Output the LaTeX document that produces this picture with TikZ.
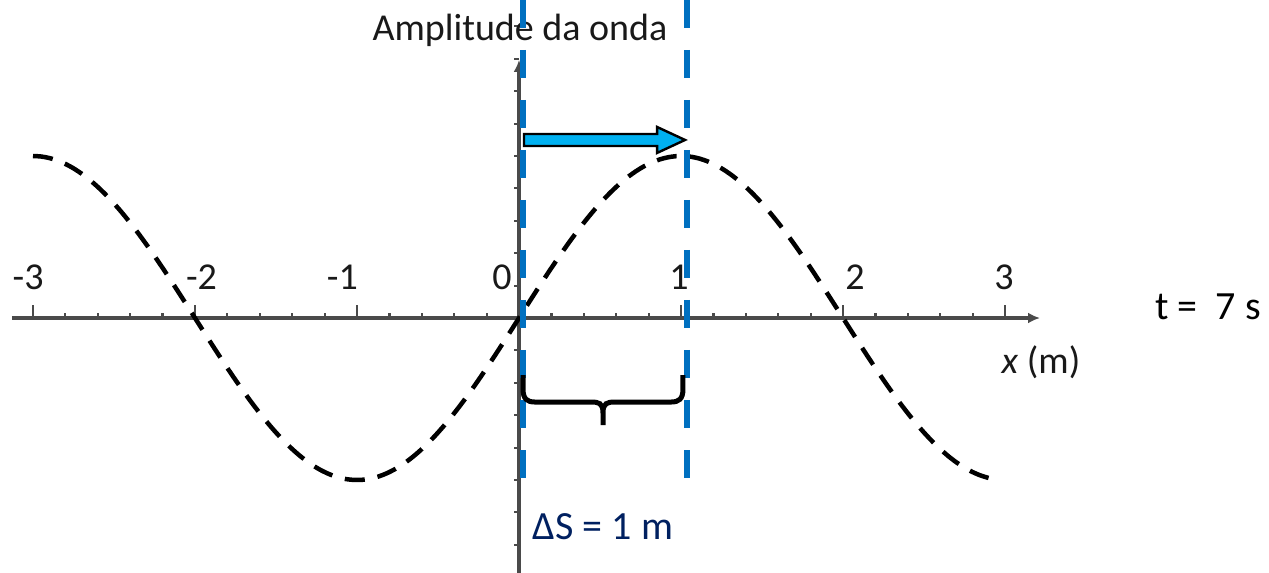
\documentclass[tikz,border=0pt]{standalone}
\usepackage{fontspec}
\setmainfont{Carlito}
\usepackage{tikz}
\usetikzlibrary{arrows.meta,calc}
\definecolor{lineblue}{HTML}{0070C0}
\definecolor{arrowblue}{HTML}{00B0F0}
\definecolor{labelnavy}{HTML}{002060}
\definecolor{axisgrey}{HTML}{4A4A4A}

\begin{document}
\begin{tikzpicture}[x=162pt,y=162pt,
    axisline/.style={draw=axisgrey,line width=3.4pt},
    wavestyle/.style={black,line width=4.5pt,dash pattern=on 20pt off 13pt},
    markline/.style={lineblue,line width=6pt,dash pattern=on 28pt off 22pt},
    scanlabel/.style={font=\fontsize{38}{42}\selectfont,text=black!90},
    slidelabel/.style={font=\fontsize{40}{46}\selectfont}]
  \useasboundingbox (-3.2037,-1.574) rectangle (4.6296,1.963);

  % axes
  \coordinate (xleft) at (-3.13,0);
  \coordinate (xright) at (3.216,0);
  \coordinate (ybot) at (0,-1.574);
  \coordinate (ytop) at (0,1.593);
  \draw[axisline,-{Latex[length=12pt,width=11pt]}] (xleft) -- (xright);
  \draw[axisline,-{Latex[length=12pt,width=11pt]}] (ybot) -- (ytop);
  \foreach \k in {-15,...,15}
    \draw[axisgrey,line width=2.2pt] (\k/5,0) -- ++(0,5pt);
  \foreach \k in {-3,...,3}
    \draw[axisgrey,line width=2.8pt] (\k,0) -- ++(0,13pt);
  \foreach \k in {-7,...,-1,1,2,3,4,5,6,7,8,9}
    \draw[axisgrey,line width=2pt] (0,\k/5) -- ++(-5pt,0);

  % tick labels
  \foreach \v/\p in {-3/-3.03,-2/-1.96,-1/-1.09,0/-0.105,1/0.988,2/2.074,3/2.994}
    \node[scanlabel] (lab\v) at (\p,0.253) {\v};
  \node[scanlabel] (ytitle) at (0.006,1.778) {Amplitude da onda};
  \node[scanlabel] (xtitle) at (3.222,-0.272) {\textit{x} (m)};

  % wave
  \draw[wavestyle,domain=-3:2.9,samples=120,smooth]
    plot (\x,{sin(90*\x)});

  % blue guide lines
  \coordinate (g0top) at (0.025,1.963);
  \coordinate (g0bot) at (0.025,-1.123);
  \coordinate (g1top) at (1.037,1.963);
  \coordinate (g1bot) at (1.037,-1.123);
  \draw[markline] (g0top) -- (g0bot);
  \draw[markline] (g1top) -- (g1bot);

  % displacement arrow
  \coordinate (arrS) at (0.031,1.099);
  \coordinate (arrE) at (1.025,1.099);
  \filldraw[fill=arrowblue,draw=black,line width=2.4pt,line join=miter]
    ($(arrS)+(0,6pt)$) -- ($(arrE)+(-28pt,6pt)$) -- ++(0,7pt) -- (arrE)
    -- ($(arrE)+(-28pt,-13pt)$) -- ++(0,7pt) -- ($(arrS)+(0,-6pt)$) -- cycle;

  % brace
  \coordinate (brL) at (0.025,-0.352);
  \coordinate (brR) at (1.012,-0.352);
  \coordinate (brM) at ($(brL)!0.5!(brR)$);
  \draw[line width=5pt,line cap=butt]
    (brL) -- ++(0,-14pt) .. controls +(0,-10pt) and +(-8pt,0) .. ++(12pt,-13pt)
    -- ($(brM)+(-12pt,-27pt)$) .. controls +(8pt,0) and +(0,10pt) .. ($(brM)+(0,-38pt)$)
    -- ($(brM)+(0,-50pt)$)
    ($(brM)+(0,-38pt)$) .. controls +(0,10pt) and +(-8pt,0) .. ($(brM)+(12pt,-27pt)$)
    -- ($(brR)+(-12pt,-27pt)$) .. controls +(8pt,0) and +(0,-10pt) .. ($(brR)+(0,-14pt)$)
    -- (brR);

  \node[slidelabel,text=labelnavy] (dS) at (0.519,-1.29) {ΔS = 1 m};
  \node[slidelabel] (tlab) at (4.253,0.068) {t = \ 7 s};
\end{tikzpicture}
\end{document}
